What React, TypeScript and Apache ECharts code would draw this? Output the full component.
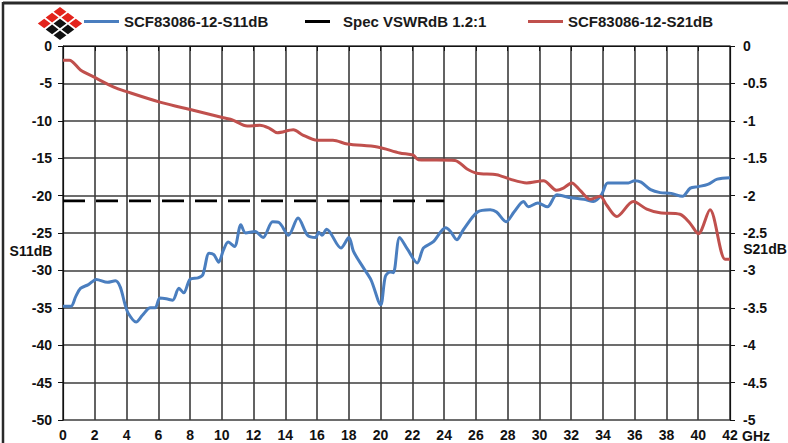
import React, { useEffect, useRef } from "react";
import * as echarts from "echarts";

const s11Name = "SCF83086-12-S11dB";
const specName = "Spec VSWRdB 1.2:1";
const s21Name = "SCF83086-12-S21dB";

// S11 (left axis, dB) : [GHz, dB]
const s11Points: [number, number][] = [
  [0, -34.8], [0.5, -34.8], [0.8, -33.5], [1.1, -32.4], [1.6, -31.9], [2.1, -31.2], [2.8, -31.6],
  [3.3, -31.4], [3.6, -32.2], [3.9, -34.5], [4.1, -35.7], [4.6, -36.9], [5.0, -36.0], [5.5, -35.0],
  [5.8, -35.0], [6.1, -33.7], [6.5, -33.8], [6.9, -34.0], [7.3, -32.4], [7.6, -33.0], [8.0, -31.2],
  [8.5, -31.0], [8.8, -30.6], [9.2, -27.7], [9.5, -27.9], [9.8, -28.9], [10.1, -27.3], [10.4, -26.2],
  [10.8, -26.8], [11.2, -23.9], [11.5, -25.0], [12.1, -24.8], [12.6, -25.6], [13.2, -23.5], [13.6, -23.6],
  [14.2, -25.3], [14.8, -23.0], [15.4, -25.3], [15.9, -25.6], [16.1, -24.9], [16.3, -25.3], [16.6, -24.5],
  [17.5, -27.0], [18.0, -25.6], [18.3, -27.5], [18.9, -29.6], [19.4, -31.3], [20.0, -34.6], [20.3, -30.8],
  [20.6, -30.2], [20.8, -30.3], [21.2, -25.6], [21.7, -27.2], [22.3, -29.0], [22.7, -27.0], [23.3, -26.2],
  [24.1, -24.3], [24.4, -24.8], [24.8, -25.9], [25.2, -24.6], [26.1, -22.2], [26.9, -21.9], [27.3, -22.2],
  [27.9, -23.5], [28.4, -22.2], [29.0, -20.8], [29.3, -21.5], [29.9, -21.0], [30.5, -21.5], [31.1, -19.9],
  [32.0, -20.3], [32.8, -20.5], [33.4, -20.8], [33.9, -19.9], [34.3, -18.3], [34.9, -18.3], [35.6, -18.3],
  [36.0, -18.0], [36.4, -18.2], [37.0, -19.2], [37.6, -19.6], [38.3, -19.7], [39.0, -20.1], [39.5, -19.0],
  [40.0, -18.8], [40.6, -18.5], [41.2, -17.8], [42.0, -17.6],
];

// Spec limit (left axis, dB)
const specPoints: [number, number][] = [
  [0, -20.7], [24, -20.7],
];

// S21 (right axis, dB) : [GHz, dB]
const s21Points: [number, number][] = [
  [0, -0.19], [0.4, -0.19], [1.1, -0.32], [1.9, -0.41], [3.2, -0.55], [4.0, -0.61], [6.1, -0.75],
  [8.2, -0.86], [10.1, -0.96], [10.7, -0.99], [11.6, -1.07], [12.4, -1.06], [13.0, -1.10], [13.5, -1.16],
  [14.5, -1.12], [15.1, -1.19], [16.0, -1.26], [17.0, -1.26], [17.9, -1.31], [19.8, -1.35], [21.2, -1.43],
  [22.06, -1.46], [22.37, -1.52], [24.68, -1.53], [25.42, -1.64], [26.05, -1.70], [27.31, -1.72],
  [28.15, -1.78], [29.2, -1.83], [30.25, -1.80], [31.09, -1.93], [31.51, -1.90], [32.03, -1.83],
  [32.56, -1.93], [33.19, -2.05], [33.82, -2.01], [34.24, -2.13], [34.87, -2.28], [35.91, -2.08],
  [36.76, -2.18], [37.59, -2.23], [38.85, -2.25], [39.48, -2.37], [40.01, -2.51], [40.74, -2.19],
  [41.69, -2.85], [42.0, -2.85],
];

const FONT = "'Liberation Sans', Arial, sans-serif";

function diamond(cx: number, cy: number, color: string) {
  const hx = 6.4;
  const hy = 4.8;
  return {
    type: "polygon",
    shape: { points: [[cx, cy - hy], [cx + hx, cy], [cx, cy + hy], [cx - hx, cy]] },
    style: { fill: color },
    silent: true,
  };
}

function logo() {
  const cx = 60;
  const cy = 23.5;
  const dx = 7.9;
  const dy = 5.9;
  const red = "#e3231c";
  const blk = "#111111";
  return [
    diamond(cx, cy - 2 * dy, red),
    diamond(cx - dx, cy - dy, red),
    diamond(cx + dx, cy - dy, red),
    diamond(cx - 2 * dx, cy, red),
    diamond(cx, cy, blk),
    diamond(cx + 2 * dx, cy, red),
    diamond(cx - dx, cy + dy, blk),
    diamond(cx + dx, cy + dy, blk),
    diamond(cx, cy + 2 * dy, blk),
  ];
}

export default function App() {
  const ref = useRef<HTMLDivElement>(null);
  useEffect(() => {
    if (!ref.current) return;
    const chart = echarts.init(ref.current, undefined, { renderer: "svg" });
    const labelStyle = { fontFamily: FONT, fontSize: 14, fontWeight: "bold" as const, color: "#111" };
    const legendText = { fontFamily: FONT, fontSize: 15, fontWeight: "bold" as const, color: "#1a1a1a" };
    const gridLine = { show: true, lineStyle: { color: "#3c3c3c", width: 1.6 } };
    chart.setOption({
      animation: false,
      backgroundColor: "#ffffff",
      grid: { left: 63, right: 58, top: 46, bottom: 23 },
      legend: [
        {
          data: [s11Name], left: 84, top: 14, padding: 0, icon: "rect",
          itemWidth: 35, itemHeight: 3, textStyle: legendText,
        },
        {
          data: [specName], left: 305, top: 14, padding: 0, icon: "rect",
          itemWidth: 25, itemHeight: 3, textStyle: { ...legendText, padding: [0, 0, 0, 8] },
        },
        {
          data: [s21Name], left: 528, top: 14, padding: 0, icon: "rect",
          itemWidth: 35, itemHeight: 3, textStyle: legendText,
        },
      ],
      xAxis: {
        type: "value", min: 0, max: 42, interval: 2,
        axisLine: { show: true, lineStyle: { color: "#111", width: 1.2 } },
        axisTick: { show: true, length: 5, lineStyle: { color: "#111" } },
        axisLabel: { ...labelStyle, margin: 8 },
        splitLine: gridLine,
      },
      yAxis: [
        {
          type: "value", min: -50, max: 0, interval: 5, position: "left",
          axisLine: { show: true, lineStyle: { color: "#111", width: 1.2 } },
          axisTick: { show: true, length: 5, lineStyle: { color: "#111" } },
          axisLabel: { ...labelStyle, margin: 11 },
          splitLine: gridLine,
        },
        {
          type: "value", min: -5, max: 0, interval: 0.5, position: "right",
          axisLine: { show: true, lineStyle: { color: "#111", width: 1.2 } },
          axisTick: { show: true, length: 5, lineStyle: { color: "#111" } },
          axisLabel: { ...labelStyle, margin: 13 },
          splitLine: { show: false },
        },
      ],
      series: [
        {
          name: s11Name, type: "line", data: s11Points, yAxisIndex: 0, showSymbol: false, smooth: 0.3,
          lineStyle: { color: "#4a7ebf", width: 3 }, itemStyle: { color: "#4a7ebf" }, z: 3,
        },
        {
          name: specName, type: "line", data: specPoints, yAxisIndex: 0, showSymbol: false,
          lineStyle: { color: "#000", width: 2.6, type: [22, 11] }, itemStyle: { color: "#000" }, z: 2,
        },
        {
          name: s21Name, type: "line", data: s21Points, yAxisIndex: 1, showSymbol: false, smooth: 0.3,
          lineStyle: { color: "#c0504d", width: 3 }, itemStyle: { color: "#c0504d" }, z: 3,
        },
      ],
      graphic: [
        { type: "line", shape: { x1: 3, y1: 3, x2: 788, y2: 3 }, style: { stroke: "#2a2a2a", lineWidth: 3 }, silent: true },
        { type: "line", shape: { x1: 3, y1: 2, x2: 3, y2: 443 }, style: { stroke: "#2a2a2a", lineWidth: 2.5 }, silent: true },
        ...logo(),
        {
          type: "text", x: 31, y: 251,
          style: { text: "S11dB", fill: "#111", font: `bold 14px ${FONT}`, align: "center", verticalAlign: "middle" },
        },
        {
          type: "text", x: 765, y: 249,
          style: { text: "S21dB", fill: "#111", font: `bold 14px ${FONT}`, align: "center", verticalAlign: "middle" },
        },
        {
          type: "text", x: 742, y: 436,
          style: { text: "GHz", fill: "#111", font: `bold 14px ${FONT}`, align: "left", verticalAlign: "middle" },
        },
      ],
    });
    return () => chart.dispose();
  }, []);
  return (
    <div
      ref={ref}
      style={{ position: "fixed", left: 0, top: 0, width: 788, height: 443, background: "#fff" }}
    />
  );
}
